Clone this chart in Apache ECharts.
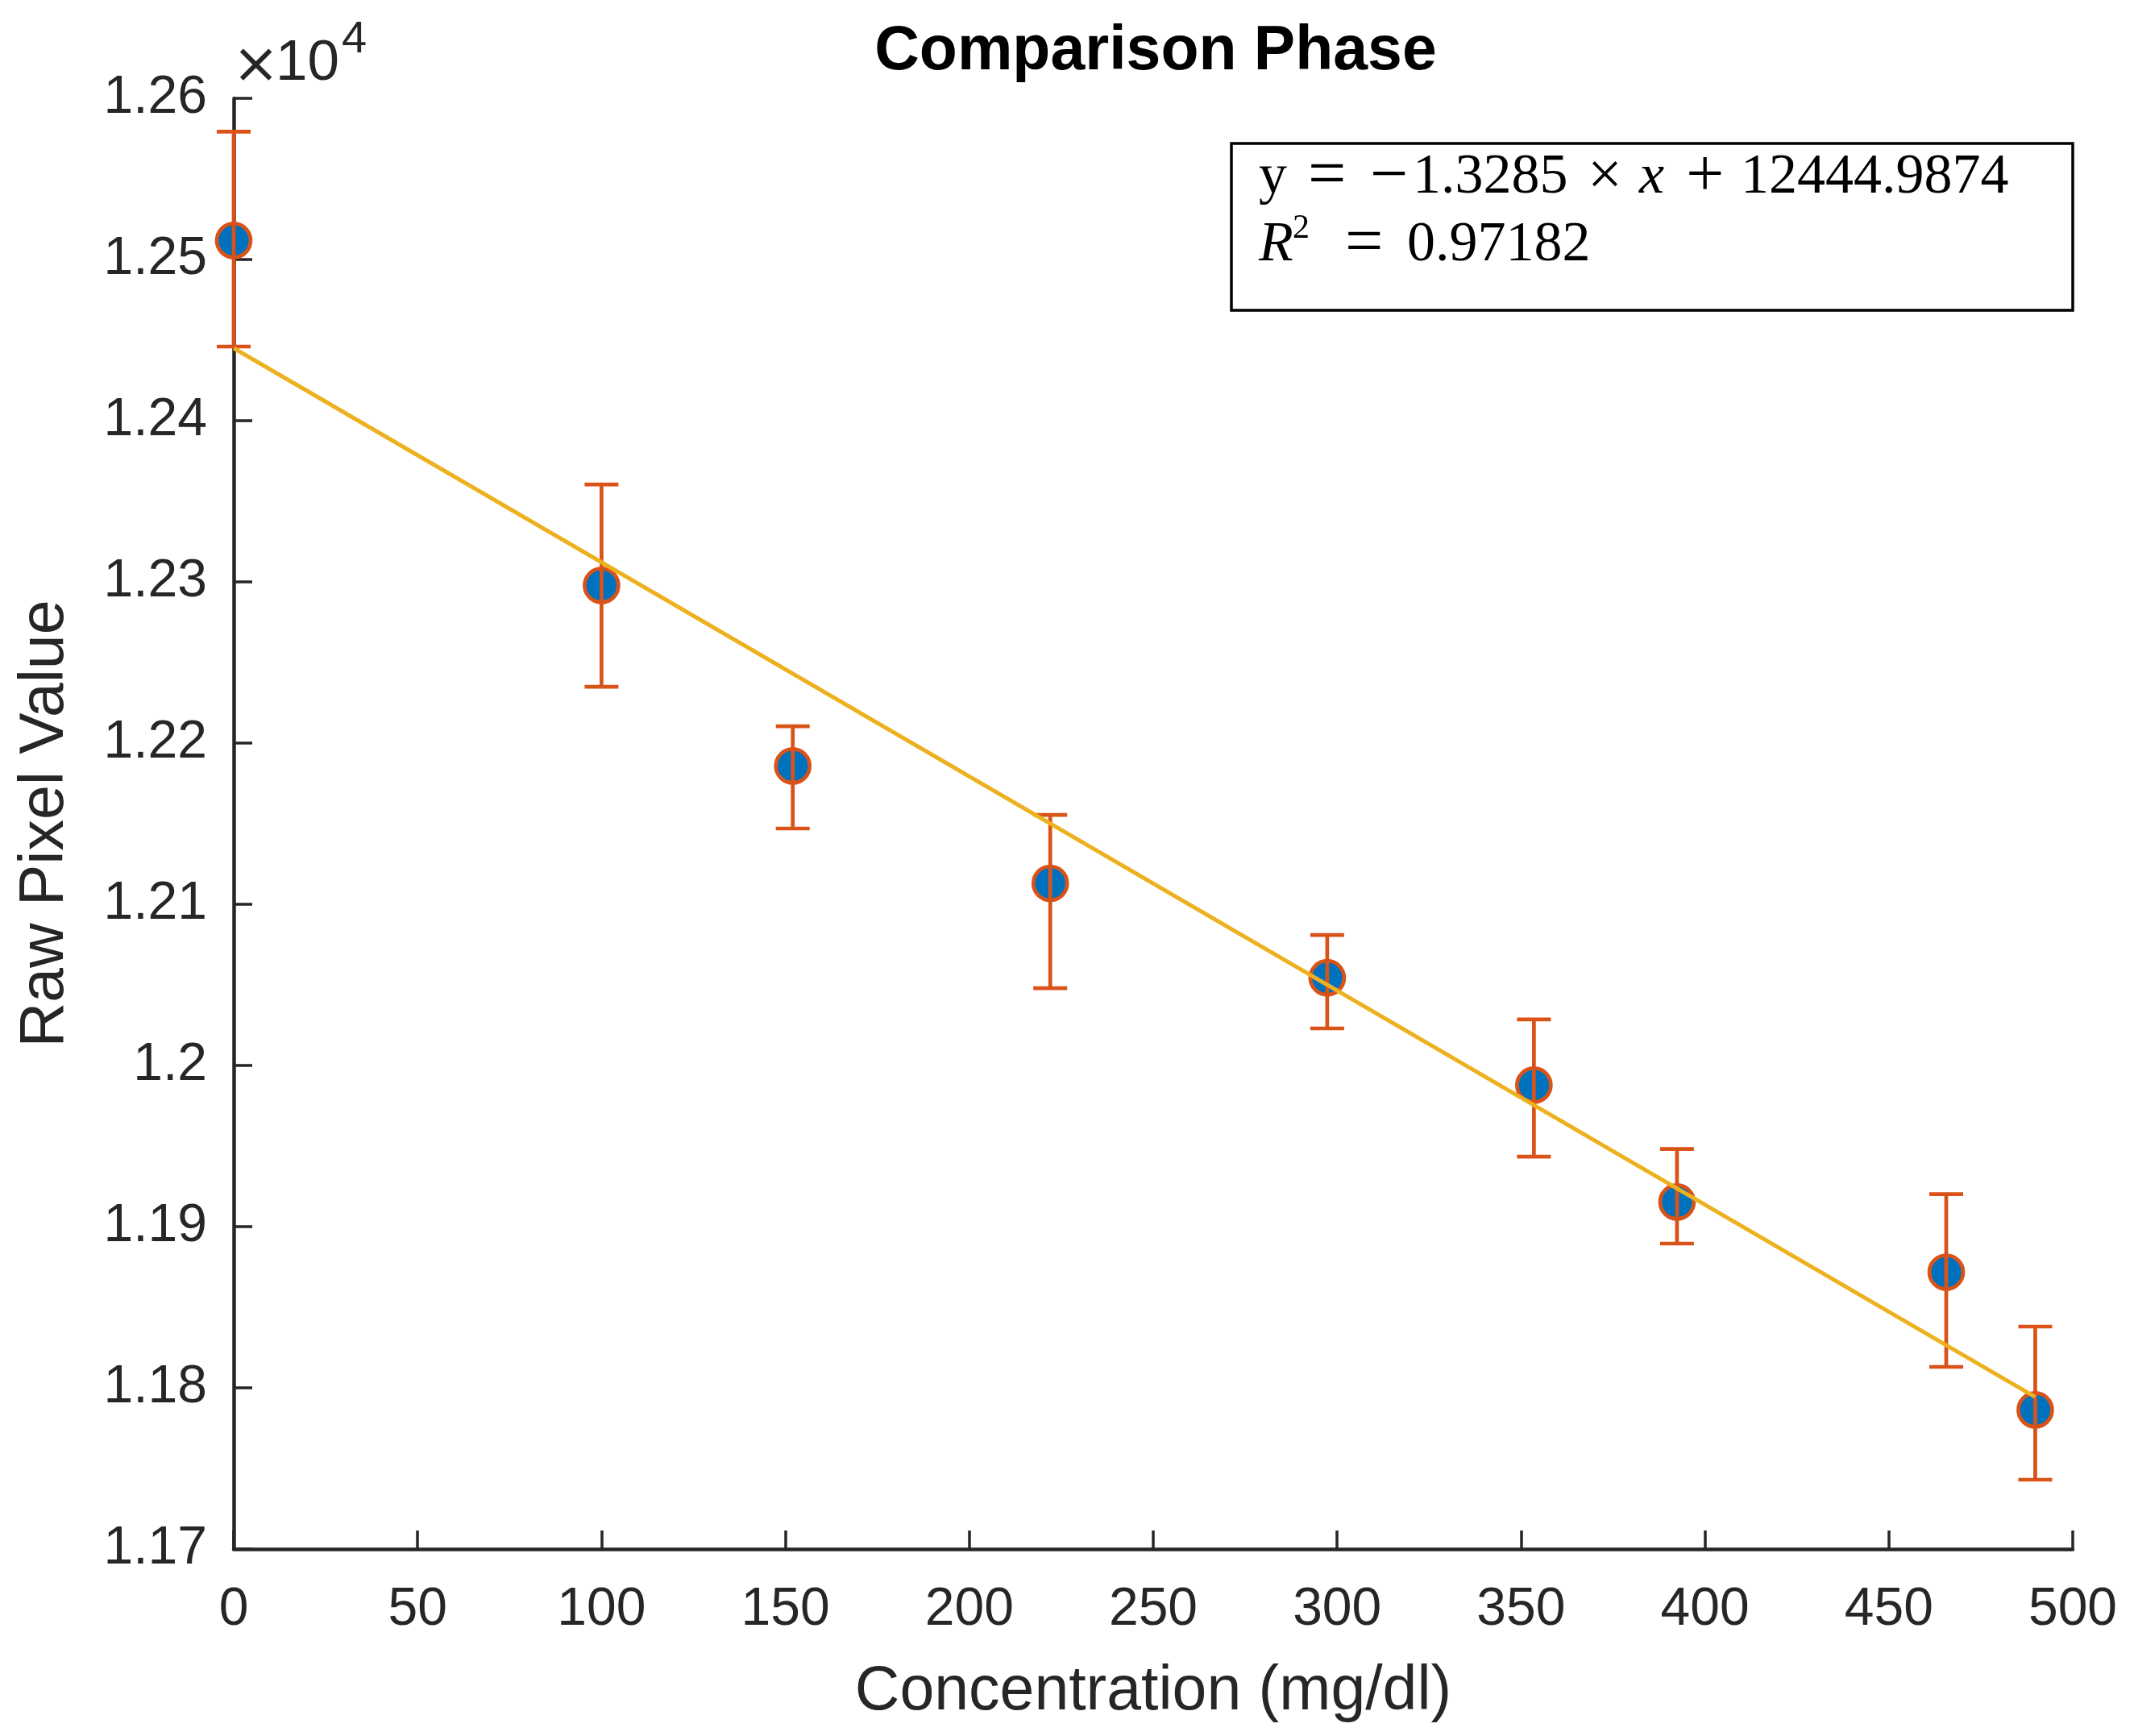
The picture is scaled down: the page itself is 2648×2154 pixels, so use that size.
<!DOCTYPE html>
<html>
<head>
<meta charset="utf-8">
<script src="https://cdn.jsdelivr.net/npm/echarts@6/dist/echarts.min.js"></script>
<style>
  html, body { margin: 0; padding: 0; background: #fff; }
  #chart { width: 2648px; height: 2154px; }
</style>
</head>
<body>
<div id="chart"></div>
<script>
// measured points (mean with upper / lower error bar ends)
const concentration = [0, 100, 152, 222, 297.3, 353.5, 392.4, 465.6, 489.8];
const meanValue = [12511.8, 12297.8, 12185.8, 12113, 12054.4, 11987.8, 11915.3, 11871.7, 11786.3];
const upperValue = [12579.3, 12360.4, 12210.4, 12155.4, 12080.9, 12028.6, 11948.2, 11920.2, 11838];
const lowerValue = [12446, 12234.9, 12147, 12047.9, 12023, 11943.4, 11889.5, 11813, 11743];

// linear fit shown in the text box
const fitSlope = -1.3285;
const fitIntercept = 12444.9874;
const fitRange = [0, 489.8];
const rSquared = 0.97182;

const axisColor = '#262626';
const sans = '"Liberation Sans", Arial, Helvetica, sans-serif';
const serif = '"Liberation Serif", "Times New Roman", serif';

const chart = echarts.init(document.getElementById('chart'));

const fitData = fitRange.map(x => [x, fitIntercept + fitSlope * x]);
const errData = concentration.map((c, i) => [c, lowerValue[i], upperValue[i]]);
const pointData = concentration.map((c, i) => [c, meanValue[i]]);

function yLabel(v) {
  return String(Number((v / 10000).toFixed(3)));
}

// rich style helpers for the equation box (every token left aligned, fixed advance)
function num(w) {
  return { fontSize: 70, fontFamily: serif, lineHeight: 84, color: '#000', width: w, align: 'left' };
}
function op(w, size) {
  return { fontSize: size || 84, fontFamily: serif, lineHeight: 84, color: '#000', width: w, align: 'left' };
}
function ital(w) {
  return { fontSize: 70, fontFamily: serif, fontStyle: 'italic', lineHeight: 84, color: '#000', width: w, align: 'left' };
}

const slopeText = Math.abs(fitSlope).toFixed(4);
const interceptText = fitIntercept.toFixed(4);

const option = {
  animation: false,
  backgroundColor: '#fff',
  grid: { left: 290, right: 76, top: 122, bottom: 232, outerBoundsMode: 'none' },
  xAxis: {
    type: 'value',
    min: 0, max: 500, interval: 50,
    name: 'Concentration (mg/dl)',
    nameLocation: 'middle',
    nameGap: 139,
    nameTextStyle: { fontSize: 77, color: axisColor, fontFamily: sans },
    axisLine: { lineStyle: { color: axisColor, width: 4.5 } },
    axisTick: { inside: true, length: 23, lineStyle: { color: axisColor, width: 3.5 } },
    axisLabel: { fontSize: 66, color: axisColor, fontFamily: sans, margin: 43 },
    splitLine: { show: false }
  },
  yAxis: {
    type: 'value',
    min: 11700, max: 12600, interval: 100,
    name: 'Raw Pixel Value',
    nameLocation: 'middle',
    nameGap: 195,
    nameRotate: 90,
    nameTextStyle: { fontSize: 77, color: axisColor, fontFamily: sans },
    axisLine: { show: true, lineStyle: { color: axisColor, width: 4.5 } },
    axisTick: { show: true, inside: true, length: 23, lineStyle: { color: axisColor, width: 3.5 } },
    axisLabel: { fontSize: 66, color: axisColor, fontFamily: sans, margin: 33, formatter: yLabel },
    splitLine: { show: false }
  },
  series: [
    {
      type: 'scatter',
      data: pointData,
      symbol: 'circle',
      symbolSize: 42,
      itemStyle: { color: '#0072BD', borderColor: '#D95319', borderWidth: 4.7, opacity: 1 },
      z: 2
    },
    {
      type: 'custom',
      data: errData,
      z: 3,
      renderItem: function (params, api) {
        const x = api.value(0);
        const lo = api.coord([x, api.value(1)]);
        const hi = api.coord([x, api.value(2)]);
        const hw = 21;
        const style = { stroke: '#D95319', lineWidth: 4.7, fill: null };
        return {
          type: 'group',
          children: [
            { type: 'line', shape: { x1: hi[0], y1: hi[1], x2: lo[0], y2: lo[1] }, style: style },
            { type: 'line', shape: { x1: hi[0] - hw, y1: hi[1], x2: hi[0] + hw, y2: hi[1] }, style: style },
            { type: 'line', shape: { x1: lo[0] - hw, y1: lo[1], x2: lo[0] + hw, y2: lo[1] }, style: style }
          ]
        };
      }
    },
    {
      type: 'line',
      data: fitData,
      showSymbol: false,
      symbol: 'none',
      lineStyle: { color: '#EDB120', width: 5 },
      z: 4
    }
  ],
  graphic: [
    {
      type: 'text', x: 1434, y: 65, z: 10,
      style: {
        text: 'Comparison Phase', fill: '#000',
        fontSize: 77, fontWeight: 'bold', fontFamily: sans,
        align: 'center', verticalAlign: 'middle',
        textAlign: 'center', textVerticalAlign: 'middle'
      }
    },
    // axis exponent: x10^4
    {
      type: 'text', x: 317.5, y: 84, z: 10,
      style: {
        text: '\u00d7', fill: axisColor, fontSize: 70, fontFamily: '"DejaVu Sans", sans-serif',
        align: 'center', verticalAlign: 'middle', textAlign: 'center', textVerticalAlign: 'middle'
      }
    },
    {
      type: 'text', x: 342, y: 79, z: 10,
      style: {
        text: '10', fill: axisColor, fontSize: 71, fontFamily: sans,
        align: 'left', verticalAlign: 'middle', textAlign: 'left', textVerticalAlign: 'middle'
      }
    },
    {
      type: 'text', x: 424, y: 50, z: 10,
      style: {
        text: '4', fill: axisColor, fontSize: 56, fontFamily: sans,
        align: 'left', verticalAlign: 'middle', textAlign: 'left', textVerticalAlign: 'middle'
      }
    },
    {
      type: 'rect', z: 10,
      shape: { x: 1528, y: 178, width: 1044, height: 207 },
      style: { fill: '#fff', stroke: '#000', lineWidth: 3.5 }
    },
    {
      type: 'text', x: 1562, y: 179, z: 11,
      style: {
        text: '{a|y}{b|=}{c|\u2212}{d|' + slopeText + '}{e|\u00d7}{f|x}{g|+}{h|' + interceptText + '}\n' +
              '{r|R}{s|2}{t|=}{u|' + rSquared.toFixed(5) + '}',
        fill: '#000',
        align: 'left', verticalAlign: 'top', textAlign: 'left', textVerticalAlign: 'top',
        rich: {
          a: num(61),
          b: op(77),
          c: op(53),
          d: num(217),
          e: op(64, 76),
          f: ital(58),
          g: op(68),
          h: num(null),
          r: ital(42),
          s: { fontSize: 42, fontFamily: serif, lineHeight: 84, color: '#000', width: 65, align: 'left',
               verticalAlign: 'top', padding: [0, 0, 28, 0] },
          t: op(77),
          u: num(null)
        }
      }
    }
  ]
};

chart.setOption(option);
</script>
</body>
</html>
